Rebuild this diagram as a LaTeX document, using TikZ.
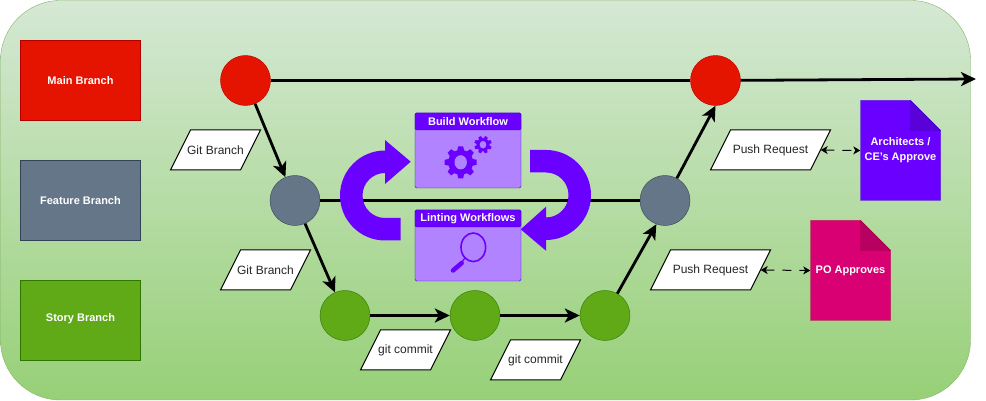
\documentclass[tikz,border=0pt]{standalone}
\usepackage{fontspec}
\setmainfont{Liberation Sans}
\usetikzlibrary{arrows.meta}
\definecolor{bgtop}{HTML}{D5E8D4}
\definecolor{bgbottom}{HTML}{97D077}
\definecolor{bgline}{HTML}{82B366}
\definecolor{mainred}{HTML}{E51400}
\definecolor{mainredline}{HTML}{B20000}
\definecolor{featgrey}{HTML}{647687}
\definecolor{featgreyline}{HTML}{314354}
\definecolor{storygreen}{HTML}{60A917}
\definecolor{storygreenline}{HTML}{2D7600}
\definecolor{wfpurple}{HTML}{6A00FF}
\definecolor{wfpurpleline}{HTML}{3700CC}
\definecolor{wflight}{HTML}{B283FF}
\definecolor{wffold}{HTML}{5A00D9}
\definecolor{popink}{HTML}{D80073}
\definecolor{popinkline}{HTML}{A50040}
\definecolor{pofold}{HTML}{B80062}
\tikzset{
	bigbox/.style={draw, line width=1pt, minimum width=120pt, minimum height=80pt, inner sep=0pt, text=white, font=\fontsize{11}{13}\selectfont\bfseries},
	dot/.style={circle, draw, minimum size=50pt, inner sep=0pt},
	flow/.style={line width=2.8pt, -{Stealth[length=15pt, width=14pt, inset=4pt]}},
	through/.style={line width=2.8pt},
	slantline/.style={draw=black, fill=white, line width=1pt},
	slanttext/.style={minimum height=40pt, inner sep=0pt, text=black!85, font=\fontsize{12}{14}\selectfont},
	wfbody/.style={draw=wfpurpleline, fill=wflight, rounded corners=1.5pt, minimum width=106pt, inner sep=0pt},
	wfhead/.style={draw=wfpurpleline, fill=wfpurple, rounded corners=1.5pt, minimum width=106pt, minimum height=17pt, inner sep=0pt, text=white, font=\fontsize{11}{13}\selectfont\bfseries},
	notelabel/.style={minimum width=80pt, minimum height=100pt, inner sep=0pt, align=center, text=white, font=\fontsize{11}{15}\selectfont\bfseries},
	approve/.style={dash pattern=on 9pt off 8pt, line width=1pt, {Stealth[length=7pt, width=8pt, inset=2pt]}-{Stealth[length=7pt, width=8pt, inset=2pt]}},
	bigturn/.style={fill=wfpurple}
}
\def\slantbox(#1)(#2,#3)(#4)#5{
	\draw[slantline] (#2-#4/2-10, #3-20) -- (#2+#4/2-10, #3-20) -- (#2+#4/2+10, #3+20) -- (#2-#4/2+10, #3+20) -- cycle;
	\node[slanttext, minimum width=#4pt] (#1) at (#2, #3) {#5};
}
\def\dognote(#1,#2)(#3)(#4)(#5){
	\draw[draw=#4, fill=#3] (#1-40, #2+50) -- (#1+10, #2+50) -- (#1+40, #2+20) -- (#1+40, #2-50) -- (#1-40, #2-50) -- cycle;
	\draw[draw=#4, fill=#5] (#1+10, #2+50) -- (#1+10, #2+20) -- (#1+40, #2+20) -- cycle;
}
\def\gearicon(#1,#2)(#3:#4:#5:#6:#7){
	\fill[wfpurple] (#1,#2) circle (#3pt);
	\foreach \ang in {0,45,...,315}
		\fill[wfpurple, shift={(#1,#2)}, rotate=\ang+#7] (#3pt-1pt,-#5pt) -- (#4pt,-#5pt*0.7) -- (#4pt,#5pt*0.7) -- (#3pt-1pt,#5pt) -- cycle;
	\fill[wflight] (#1,#2) ellipse (#6pt and #6pt*1.15);
}

\begin{document}
\begin{tikzpicture}[x=1pt, y=1pt]
	%%%%% START %%%%%

	\useasboundingbox (0, 0) rectangle (986, 401);
	\draw[draw=bgline, top color=bgtop, bottom color=bgbottom, rounded corners=60pt] (0.5, 1) rectangle (970.5, 400.5);

	\node[bigbox, draw=mainredline, fill=mainred] (legendmain) at (80.5, 320.5) {Main Branch};
	\node[bigbox, draw=featgreyline, fill=featgrey] (legendfeat) at (80.5, 200.5) {Feature Branch};
	\node[bigbox, draw=storygreenline, fill=storygreen] (legendstory) at (80.5, 80.5) {\raisebox{6pt}{Story Branch}};

	\node[dot, draw=mainredline, fill=mainred] (main1) at (245.5, 320.5) {};
	\node[dot, draw=mainredline, fill=mainred] (main2) at (715.5, 320.5) {};
	\node[dot, draw=featgreyline, fill=featgrey] (feat1) at (295, 200.5) {};
	\node[dot, draw=featgreyline, fill=featgrey] (feat2) at (665, 200.5) {};
	\node[dot, draw=storygreenline, fill=storygreen] (story1) at (345, 85.5) {};
	\node[dot, draw=storygreenline, fill=storygreen] (story2) at (475, 85.5) {};
	\node[dot, draw=storygreenline, fill=storygreen] (story3) at (605, 85.5) {};
	\coordinate (mainend) at (976, 322);

	\draw[through] (main1) -- (main2);
	\draw[flow] (main2) -- (mainend);
	\draw[through] (feat1) -- (feat2);
	\draw[flow] (main1) -- (feat1);
	\draw[flow] (feat1) -- (story1);
	\draw[flow] (story1) -- (story2);
	\draw[flow] (story2) -- (story3);
	\draw[flow] (story3) -- (feat2.250);
	\draw[flow] (feat2) -- (main2.south);

	\slantbox(gitbranch1)(215.5,251)(70){Git Branch}
	\slantbox(gitbranch2)(265.5,131)(70){Git Branch}
	\slantbox(gitcommit1)(405.5,51)(70){git commit}
	\slantbox(gitcommit2)(535.5,41)(70){git commit}
	\slantbox(push1)(770.5,251)(100){Push Request}
	\slantbox(push2)(710.5,131)(100){Push Request}

	\fill[bigturn] (400.7, 160.5) -- (385, 160.5) arc (270:90:45pt) -- (385, 261) -- (410.7, 239.3) -- (385, 217) -- (385, 228) arc (90:270:22.5pt) -- (400.7, 183) -- cycle;
	\fill[bigturn] (530, 251) -- (546, 251) arc (90:-90:45pt) -- (546, 150.3) -- (520.7, 171.7) -- (546, 194.3) -- (546, 183.5) arc (-90:90:22.5pt) -- (530, 228.5) -- cycle;

	\node[wfbody, minimum height=75pt] (build) at (468, 250.5) {};
	\node[wfhead, anchor=north] (buildhead) at (build.north) {Build Workflow};
	\gearicon(460.7,238.7)(12.5:16:3.5:6.2:0)
	\gearicon(483,256.3)(6.5:8.7:2:3.3:22)

	\node[wfbody, minimum height=71pt] (lint) at (468, 155.5) {};
	\node[wfhead, anchor=north] (linthead) at (lint.north) {Linting Workflows};
	\draw[wfpurple, line width=1.6pt] (473.3, 153.7) ellipse (12.3pt and 14.3pt);
	\draw[wfpurple, line width=1.2pt] (465, 143) -- (461, 138);
	\draw[wfpurple, line width=4.5pt, line cap=round] (461.7, 138) -- (453, 130.5);

	\dognote(900.5,250.5)(wfpurple)(wfpurpleline)(wffold)
	\dognote(850.5,130.5)(popink)(popinkline)(pofold)
	\node[notelabel] (arch) at (900.5, 250.5) {Architects /\\CE's Approve};
	\node[notelabel] (po) at (850.5, 130.5) {PO Approves};

	\draw[approve] (push1.east) -- (arch.west);
	\draw[approve] (push2.east) -- (po.west);

	%%%%% END %%%%%
\end{tikzpicture}
\end{document}
